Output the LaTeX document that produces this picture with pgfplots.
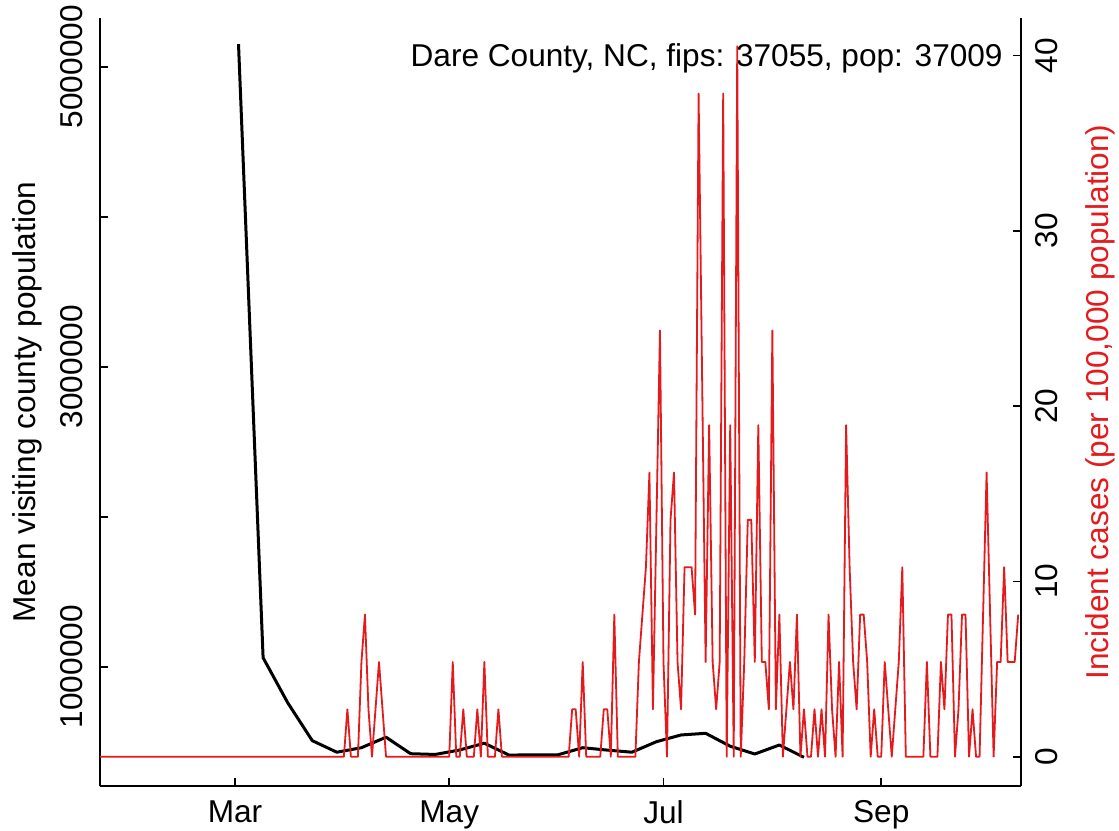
\documentclass[border=0pt]{standalone}
\usepackage{fontspec}
\setmainfont{Liberation Sans}
\usepackage{pgfplots}
\usepackage{pgfplotstable}
\pgfplotsset{compat=1.18}
\definecolor{cred}{HTML}{E41A1C}

\pgfplotstableread{
day pop
1 5150000
8 1060000
15 760000
22 507000
29 430000
36 460000
43 530000
50 420000
57 415000
64 445000
71 490000
78 411000
85 412000
92 413000
99 460000
106 444000
113 430000
120 500000
127 545000
134 556000
141 470000
148 418000
155 478000
162 396000
}\blackdata

\pgfplotstableread{
day cases
-39 0
30 0
31 0
32 1
33 0
34 0
35 0
36 2
37 3
38 1
39 0
40 1
41 2
42 1
43 0
61 0
62 2
63 0
64 0
65 1
66 0
67 0
68 0
69 1
70 0
71 2
72 0
73 0
74 0
75 1
76 0
95 0
96 1
97 1
98 0
99 2
100 0
104 0
105 1
106 1
107 0
108 3
109 0
114 0
115 2
116 3
117 4
118 6
119 1
120 5
121 9
122 2
123 0
124 5
125 6
126 2
127 1
128 4
129 4
130 4
131 3
132 14
133 8
134 2
135 7
136 2
137 1
138 2
139 14
140 0
141 7
142 0
143 15
144 0
145 2
146 5
147 5
148 2
149 7
150 2
151 2
152 1
153 9
154 1
155 3
156 0
157 1
158 2
159 1
160 3
161 0
162 1
163 0
164 0
165 1
166 0
167 1
168 0
169 3
170 1
171 0
172 2
173 0
174 7
175 4
176 2
177 1
178 3
179 3
180 2
181 0
182 1
183 0
184 0
185 2
186 1
187 0
188 1
189 2
190 4
191 0
196 0
197 2
198 0
199 0
200 0
201 2
202 1
203 3
204 3
205 0
206 1
207 3
208 3
209 0
210 1
211 0
212 0
213 3
214 6
215 3
216 0
217 2
218 2
219 4
220 2
221 2
222 2
223 3
}\reddata

\begin{document}
\fontsize{15.8pt}{19pt}\selectfont
\begin{tikzpicture}
\useasboundingbox (0,0) rectangle (559.5pt,415pt);
\begin{axis}[
  at={(50pt,22pt)}, anchor=south west,
  scale only axis, width=460.5pt, height=384pt,
  xmin=-38.44, xmax=223.8, ymin=204700, ymax=5324700,
  axis x line*=bottom, axis y line*=left,
  axis line style={-, line width=0.9pt},
  tick align=inside, major tick length=4pt,
  tick style={line width=0.9pt, black},
  xtick={0,61,122,184}, xticklabels={Mar,May,Jul,Sep},
  ytick={1000000,2000000,3000000,4000000,5000000},
  yticklabels={1000000,,3000000,,5000000},
  xticklabel style={anchor=north, inner ysep=7pt},
  yticklabel style={rotate=90, anchor=south, inner ysep=8.5pt},
  scaled y ticks=false,
  ylabel={Mean visiting county population},
  every axis y label/.style={at={(axis description cs:-0.0793,0.5)}, rotate=90, anchor=center},
]
\addplot[black, line width=1.5pt, line join=round] table[x=day,y=pop]{\blackdata};
\node[anchor=base east, inner sep=0pt] at (rel axis cs:0.9805,0.9366) {Dare County, NC, fips: 37055, pop: 37009};
\end{axis}
\begin{axis}[
  at={(50pt,22pt)}, anchor=south west,
  scale only axis, width=460.5pt, height=384pt,
  xmin=-38.44, xmax=223.8, ymin=-1.671, ymax=42.14,
  axis x line=none, axis y line*=right,
  axis line style={-, line width=0.9pt},
  tick align=inside, major tick length=4pt,
  tick style={line width=0.9pt, black},
  ytick={0,10,20,30,40},
  /pgf/number format/assume math mode=true,
  yticklabel style={rotate=90, anchor=north, inner ysep=7pt},
  ylabel={Incident cases (per 100,000 population)},
  every axis y label/.style={at={(axis description cs:1.0858,0.5)}, rotate=90, anchor=center, text=cred},
]
\addplot[cred, line width=0.9pt, line join=round] table[x=day, y expr=\thisrow{cases}*2.702]{\reddata};
\end{axis}
\end{tikzpicture}
\end{document}
